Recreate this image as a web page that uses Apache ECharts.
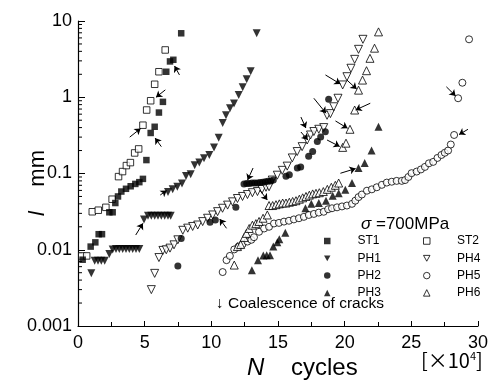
<!DOCTYPE html>
<html><head><meta charset="utf-8">
<script src="https://cdn.jsdelivr.net/npm/echarts/dist/echarts.min.js"></script>
<style>html,body{margin:0;padding:0;background:#fff}#c{width:491px;height:382px}</style>
</head><body><div id="c"></div>
<script>
// ---- data: [N (x10^4 cycles), l (mm)] ----
const st1 = [[0.35,0.0074],[0.95,0.011],[1.3,0.0125],[1.55,0.016],[1.8,0.016],[2.35,0.031],[2.6,0.031],[2.8,0.041],[3.0,0.05],[3.25,0.058],[3.6,0.063],[3.95,0.068],[4.3,0.073],[4.6,0.077],[4.87,0.085],[5.13,0.15],[5.45,0.34],[5.75,0.41],[6.07,0.63],[6.37,0.87],[6.62,2.16],[6.9,2.95],[7.15,3.1],[7.74,6.9]];
const st2 = [[0.28,0.0083],[0.65,0.0083],[1.07,0.0315],[1.52,0.033],[2.09,0.036],[2.56,0.046],[3.04,0.091],[3.34,0.106],[3.63,0.127],[3.93,0.139],[4.25,0.186],[4.55,0.21],[4.87,0.43],[5.15,0.68],[5.45,0.90],[5.75,1.48],[6.07,2.16],[6.54,4.17]];
const ph1 = [[1.0,0.0049],[1.25,0.0072],[1.5,0.0072],[1.75,0.0072],[2.0,0.0072],[2.35,0.0088],[2.6,0.0101],[2.85,0.0102],[3.1,0.0102],[3.35,0.0102],[3.6,0.0102],[3.85,0.0102],[4.1,0.0102],[4.35,0.0102],[4.6,0.0102],[4.95,0.025],[5.25,0.028],[5.5,0.028],[5.75,0.028],[6.0,0.028],[6.25,0.028],[6.5,0.028],[6.75,0.028],[6.95,0.028],[6.75,0.057],[7.1,0.062],[7.45,0.067],[7.8,0.074],[8.1,0.093],[8.45,0.098],[8.75,0.128],[9.1,0.139],[9.45,0.158],[9.85,0.175],[10.2,0.22],[10.55,0.295],[10.85,0.46],[11.1,0.58],[11.4,0.72],[11.7,0.83],[12.05,1.07],[12.35,1.35],[12.65,1.72],[12.95,2.2],[13.4,6.9]];
const ph2 = [[7.49,0.0061],[7.74,0.014],[9.9,0.023],[10.3,0.0245],[11.84,0.036],[12.45,0.073],[12.65,0.074],[12.85,0.074],[13.05,0.075],[13.25,0.075],[13.45,0.075],[13.65,0.076],[13.85,0.077],[14.05,0.078],[14.25,0.079],[14.45,0.08],[14.65,0.082],[15.6,0.092],[15.85,0.096],[16.45,0.118],[16.7,0.122],[17.3,0.168],[17.6,0.194],[17.95,0.262],[18.2,0.3],[18.55,0.354],[18.8,0.94]];
const ph3 = [[13.04,0.0054],[13.5,0.0073],[13.9,0.0084],[14.15,0.0085],[14.4,0.0085],[14.65,0.011],[14.95,0.0125],[15.1,0.0137],[15.55,0.0167],[17.06,0.035],[17.5,0.04],[18.06,0.041],[18.6,0.044],[19.1,0.051],[19.55,0.055],[20.05,0.061],[20.55,0.075],[21.04,0.118],[21.5,0.137],[22.02,0.2],[22.54,0.41]];
const ph4 = [[5.5,0.003],[5.75,0.0049],[6.07,0.0079],[6.37,0.0098],[6.62,0.01],[6.9,0.0105],[7.2,0.0116],[7.49,0.0135],[7.86,0.018],[8.23,0.0192],[8.6,0.0202],[8.98,0.0211],[9.35,0.0234],[9.72,0.0259],[10.1,0.0286],[10.47,0.0316],[10.84,0.035],[11.22,0.0385],[11.59,0.0425],[11.96,0.047],[12.34,0.05],[12.71,0.053],[13.08,0.056],[13.46,0.058],[13.8,0.062],[14.1,0.066],[14.33,0.067],[14.57,0.082],[14.95,0.095],[15.32,0.11],[15.69,0.125],[16.07,0.16],[16.44,0.194],[16.81,0.225],[17.19,0.275],[17.44,0.32],[17.69,0.355],[18.06,0.38],[18.43,0.4],[18.68,0.58],[18.93,0.61],[19.18,0.75],[19.5,0.97],[19.85,1.45],[20.17,1.86],[20.47,2.4],[20.75,3.14],[21.04,4.25],[21.37,5.75]];
const ph5 = [[10.85,0.0051],[11.14,0.0073],[11.39,0.0083],[11.72,0.0101],[12.04,0.011],[12.34,0.0118],[12.71,0.0128],[13.0,0.0135],[13.2,0.0146],[13.58,0.0172],[13.96,0.019],[14.33,0.02],[14.7,0.0221],[15.07,0.0225],[15.45,0.0234],[15.82,0.024],[16.19,0.025],[16.57,0.0259],[16.94,0.027],[17.31,0.0286],[17.69,0.0295],[18.06,0.0307],[18.43,0.0315],[18.76,0.034],[19.05,0.035],[19.43,0.036],[19.8,0.037],[20.17,0.038],[20.55,0.04],[20.8,0.044],[21.04,0.049],[21.29,0.053],[21.67,0.0595],[22.04,0.062],[22.41,0.066],[22.79,0.071],[23.16,0.076],[23.53,0.078],[23.9,0.08],[24.28,0.08],[24.53,0.082],[24.78,0.09],[25.02,0.101],[25.4,0.106],[25.72,0.113],[26.02,0.122],[26.32,0.136],[26.64,0.142],[26.96,0.16],[27.26,0.175],[27.51,0.187],[27.76,0.2],[27.96,0.24],[28.21,0.32],[28.51,0.97],[28.83,1.55],[29.33,5.75]];
const ph6 = [[11.72,0.0063],[11.96,0.011],[12.2,0.0117],[12.46,0.0145],[12.63,0.0164],[12.84,0.019],[13.08,0.021],[13.34,0.022],[13.58,0.0235],[13.88,0.0259],[14.2,0.0286],[14.33,0.038],[14.6,0.038],[14.85,0.039],[15.1,0.04],[15.35,0.041],[15.6,0.041],[15.85,0.042],[16.1,0.043],[16.35,0.044],[16.6,0.046],[16.85,0.048],[17.1,0.05],[17.35,0.052],[17.6,0.054],[17.85,0.055],[18.1,0.056],[18.4,0.058],[18.7,0.062],[19.0,0.066],[19.3,0.07],[19.55,0.075],[19.85,0.22],[20.1,0.25],[20.4,0.38],[20.75,0.68],[21.04,1.24],[21.34,1.68],[21.64,2.23],[21.9,3.24],[22.24,4.4],[22.54,7.2]];
// coalescence arrows: [tailN, tailL, headN, headL]
const arrows = [[3.88,0.30,4.7,0.39],[6.55,1.25,5.85,1.0],[6.25,0.225,5.78,0.292],[7.61,1.96,7.24,2.57],[4.33,0.0156,4.87,0.0222],[6.17,0.0522,6.65,0.06],[13.13,0.118,12.72,0.082],[11.14,0.0191,10.63,0.0253],[16.72,0.55,17.09,0.395],[16.72,0.35,17.24,0.275],[17.69,0.97,18.6,0.617],[19.31,0.489,20.22,0.392],[18.68,0.275,19.63,0.226],[21.92,0.834,20.82,0.681],[18.56,1.96,19.68,1.49],[20.17,1.68,20.9,1.28],[19.68,0.1007,20.82,0.116],[27.63,1.37,28.32,1.04],[29.25,0.38,28.58,0.324],[13.63,0.0608,14.2,0.0449]];
const yTickLabels = ['0.001','0.01','0.1','1','10'];
const yMinorTicks = [0.002,0.003,0.004,0.005,0.006,0.007,0.008,0.009,0.02,0.03,0.04,0.05,0.06,0.07,0.08,0.09,0.2,0.3,0.4,0.5,0.6,0.7,0.8,0.9,2,3,4,5,6,7,8,9];

const FONT = 'Liberation Sans, Arial, sans-serif';
const DOWN = 'path://M0,0L10,0L5,9Z';
const defs = [
  {name:'ST1', data:st1, symbol:'rect', rot:0, fill:true, size:6.5, icon:'rect'},
  {name:'ST2', data:st2, symbol:'rect', rot:0, fill:false, size:6.5, icon:'rect'},
  {name:'PH1', data:ph1, symbol:'triangle', rot:180, fill:true, size:8, icon:DOWN},
  {name:'PH4', data:ph4, symbol:'triangle', rot:180, fill:false, size:8, icon:DOWN},
  {name:'PH2', data:ph2, symbol:'circle', rot:0, fill:true, size:7, icon:'circle'},
  {name:'PH5', data:ph5, symbol:'circle', rot:0, fill:false, size:7, icon:'circle'},
  {name:'PH3', data:ph3, symbol:'triangle', rot:0, fill:true, size:8, icon:'triangle'},
  {name:'PH6', data:ph6, symbol:'triangle', rot:0, fill:false, size:8, icon:'triangle'}
];
const series = defs.map(d => ({
  name: d.name, type: 'scatter', data: d.data, symbol: d.symbol, symbolRotate: d.rot,
  symbolSize: d.size,
  itemStyle: d.fill ? {color:'#000'} : {color:'#fff', borderColor:'#000', borderWidth:1},
  z: d.fill ? 3 : 2
}));
series.push({
  type:'custom', silent:true, data: yMinorTicks.map(v => [0, v]), encode:{x:0,y:1},
  renderItem: (params, api) => {
    const p = api.coord([0, api.value(1)]);
    return {type:'line', shape:{x1:p[0], y1:p[1], x2:p[0]+4, y2:p[1]}, style:{stroke:'#000', lineWidth:1}};
  }
});
series.push({
  type:'lines', coordinateSystem:'cartesian2d', silent:true,
  symbol:['none','arrow'], symbolSize:[0,6],
  lineStyle:{color:'#000', width:1, opacity:1},
  data: arrows.map(a => ({coords:[[a[0],a[1]],[a[2],a[3]]]})),
  z: 4
});

const legendItem = n => { const d = defs.find(x => x.name === n); return {name:n, icon:d.icon, itemStyle: d.fill ? {color:'#000', borderWidth:0} : {color:'#fff', borderColor:'#000', borderWidth:1}}; };
const legendBase = {orient:'vertical', top:230, itemWidth:6.5, itemHeight:6.5, itemGap:5.3,
  textStyle:{fontFamily:FONT, fontSize:12, color:'#000', padding:[0,0,0,22]}, selectedMode:false};

const chart = echarts.init(document.getElementById('c'), null, {renderer:'canvas'});
chart.setOption({
  animation:false,
  backgroundColor:'#fff',
  grid:{left:78, right:11, top:21, bottom:56},
  xAxis:{type:'value', min:0, max:30, interval:5,
    axisLine:{onZero:false, lineStyle:{color:'#000', width:1.2}},
    axisTick:{inside:true, length:5, lineStyle:{color:'#000'}},
    minorTick:{show:true, splitNumber:2, length:4, lineStyle:{color:'#000'}},
    splitLine:{show:false},
    axisLabel:{fontFamily:FONT, fontSize:18, color:'#000', margin:8}},
  yAxis:{type:'log', logBase:10, min:0.001, max:10,
    axisLine:{show:true, lineStyle:{color:'#000', width:1.2}},
    axisTick:{show:true, inside:true, length:7, lineStyle:{color:'#000'}},
    splitLine:{show:false},
    axisLabel:{fontFamily:FONT, fontSize:18, color:'#000', margin:6,
      formatter:(v, i) => yTickLabels[i]}},
  legend:[
    Object.assign({}, legendBase, {left:319, data:['ST1','PH1','PH2','PH3'].map(legendItem)}),
    Object.assign({}, legendBase, {left:418, data:['ST2','PH4','PH5','PH6'].map(legendItem)})
  ],
  graphic:[
    {type:'text', left:361, top:216, style:{text:'{i|σ} =700MPa', fontFamily:FONT, fontSize:17, fill:'#000',
      rich:{i:{fontFamily:FONT, fontSize:17, fontStyle:'italic'}}}},
    {type:'text', left:216, top:296, style:{text:'↓ Coalescence of cracks', fontFamily:FONT, fontSize:15.5, fill:'#000'}},
    {type:'text', left:247, top:356, style:{text:'{i|N}    cycles', fontFamily:FONT, fontSize:24, fill:'#000',
      rich:{i:{fontFamily:FONT, fontSize:24, fontStyle:'italic'}}}},
    {type:'text', left:421, top:350, style:{text:'[×10{s|4}]', fontFamily:'Noto Sans CJK JP', fontSize:20, fill:'#000',
      rich:{s:{fontFamily:'Noto Sans CJK JP', fontSize:11, padding:[0,0,10,0]}}}},
    {type:'text', x:27, y:216, rotation:Math.PI/2, style:{text:'{i|l}    mm', fontFamily:FONT, fontSize:22, fill:'#000',
      rich:{i:{fontFamily:FONT, fontSize:22, fontStyle:'italic'}}}}
  ],
  series: series
});
</script></body></html>
